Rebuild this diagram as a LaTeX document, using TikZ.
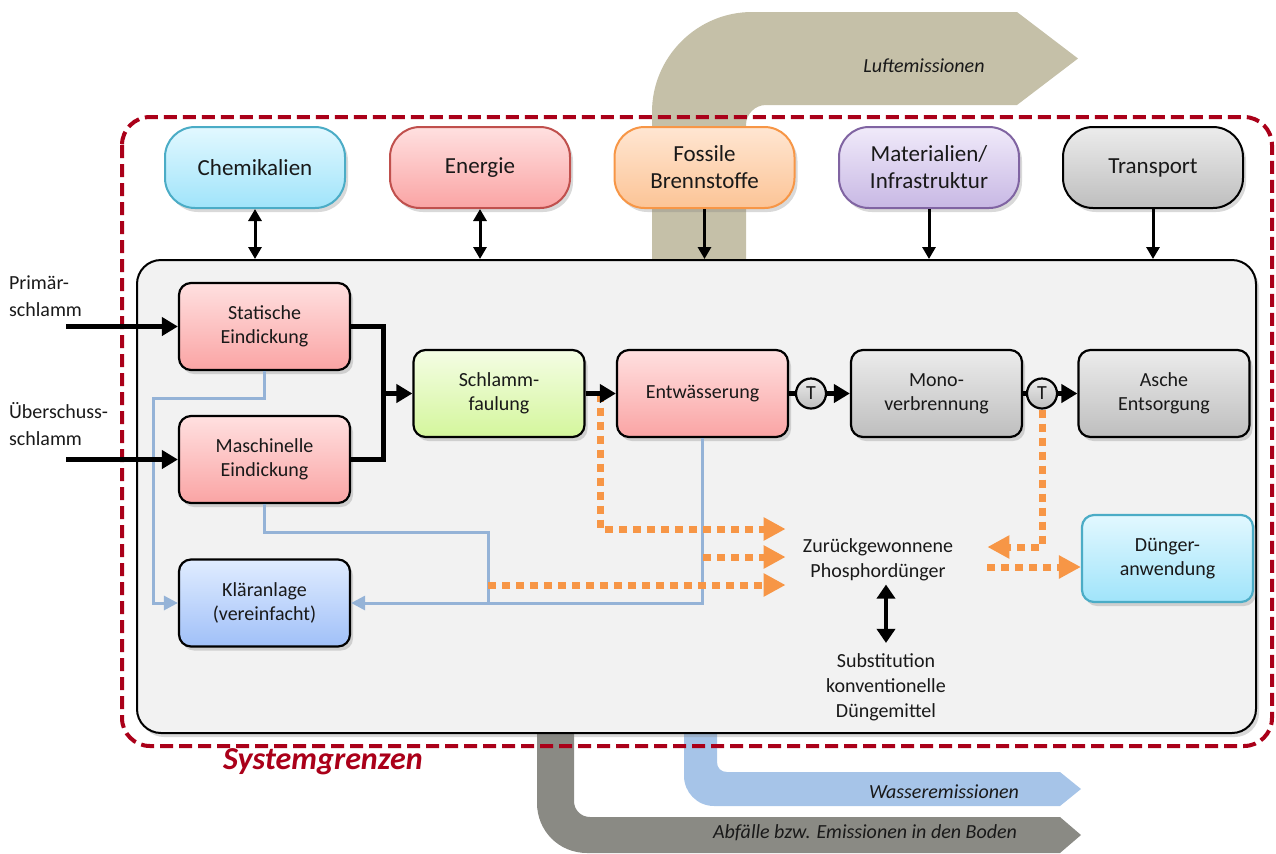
\documentclass[tikz,border=0pt]{standalone}
\usepackage{fontspec}
\setmainfont{Carlito}
\usetikzlibrary{arrows.meta,calc,shadows,positioning}

\definecolor{txt}{RGB}{25,25,25}
\definecolor{sysred}{RGB}{170,0,25}
\definecolor{airtan}{RGB}{197,192,168}
\definecolor{waterblue}{RGB}{166,196,232}
\definecolor{soilgray}{RGB}{138,138,132}
\definecolor{plantgray}{RGB}{242,242,242}
\definecolor{wline}{RGB}{149,179,215}
\definecolor{phos}{RGB}{247,150,70}
\definecolor{cyantop}{RGB}{226,248,255}
\definecolor{cyanbot}{RGB}{160,228,250}
\definecolor{cyanrim}{RGB}{75,172,198}
\definecolor{pinktop}{RGB}{255,224,224}
\definecolor{pinkbot}{RGB}{250,164,164}
\definecolor{pinkrim}{RGB}{192,80,77}
\definecolor{orngtop}{RGB}{255,230,210}
\definecolor{orngbot}{RGB}{252,196,150}
\definecolor{orngrim}{RGB}{247,150,70}
\definecolor{lilatop}{RGB}{240,234,250}
\definecolor{lilabot}{RGB}{200,184,228}
\definecolor{lilarim}{RGB}{128,100,162}
\definecolor{greytop}{RGB}{236,236,236}
\definecolor{greybot}{RGB}{190,190,190}
\definecolor{bluetop}{RGB}{224,236,255}
\definecolor{bluebot}{RGB}{160,192,248}
\definecolor{greentop}{RGB}{244,253,228}
\definecolor{greenbot}{RGB}{212,246,156}

\tikzset{
  boxshadow/.style={drop shadow={opacity=0.3,shadow xshift=1.5pt,shadow yshift=-2pt}},
  inputbox/.style={draw,line width=1pt,rounded corners=15pt,minimum width=90pt,minimum height=40.5pt,
    align=center,text=txt,font=\fontsize{11.5}{13.5}\selectfont,boxshadow},
  procbox/.style={draw=black,line width=1.1pt,rounded corners=6pt,minimum width=85.5pt,minimum height=43.5pt,
    align=center,text=txt,font=\fontsize{10}{12}\selectfont,boxshadow},
  cyanfill/.style={top color=cyantop,bottom color=cyanbot},
  pinkfill/.style={top color=pinktop,bottom color=pinkbot},
  orngfill/.style={top color=orngtop,bottom color=orngbot},
  lilafill/.style={top color=lilatop,bottom color=lilabot},
  greyfill/.style={top color=greytop,bottom color=greybot},
  bluefill/.style={top color=bluetop,bottom color=bluebot},
  greenfill/.style={top color=greentop,bottom color=greenbot},
  transfer/.style={circle,draw=black,line width=1.1pt,minimum size=15pt,inner sep=0pt,greyfill,
    text=txt,font=\fontsize{10}{12}\selectfont},
  mainflow/.style={line width=2.5pt,line join=miter},
  bigtip/.style={-{Triangle[length=8pt,width=9pt]}},
  supply/.style={line width=1.5pt,-{Triangle[length=6pt,width=6.5pt]}},
  bisupply/.style={line width=1.5pt,{Triangle[length=6pt,width=6.5pt]}-{Triangle[length=6pt,width=6.5pt]}},
  waterline/.style={draw=wline,line width=1.5pt,-{Triangle[length=7pt,width=7pt]}},
  phosline/.style={draw=phos,line width=3.5pt,dash pattern=on 4pt off 3pt,-{Triangle[length=11pt,width=11pt]}},
  bandlabel/.style={text=txt,font=\fontsize{10}{12}\itshape\selectfont},
  plaintext/.style={align=center,text=txt,font=\fontsize{10}{12.5}\selectfont},
}

\begin{document}
\begin{tikzpicture}[x=0.5pt,y=-0.5pt]
  \useasboundingbox (0,0) rectangle (1276,853);

  % emission bands behind everything
  \fill[airtan] (652,262) -- (652,112) .. controls (652,57) and (697,12) .. (752,12) -- (1017,12)
    -- (1078,58.5) -- (1017,105) -- (766,105) .. controls (755,105) and (746,114) .. (746,125) -- (746,262) -- cycle;
  \fill[waterblue] (684,720) -- (684,776) .. controls (684,792) and (697,806) .. (714,806) -- (1060,806)
    -- (1081,789) -- (1060,772) -- (727,772) .. controls (721,772) and (717,768) .. (717,762) -- (717,720) -- cycle;
  \fill[soilgray] (537,720) -- (537,803) .. controls (537,831) and (559,853) .. (587,853) -- (1060,853)
    -- (1081,835) -- (1060,817) -- (590,817) .. controls (581,817) and (574,810) .. (574,801) -- (574,720) -- cycle;
  \node[bandlabel] (airlbl) at (924,66) {Luftemissionen};
  \node[bandlabel] (waterlbl) at (944,792) {Wasseremissionen};
  \node[bandlabel] (soillbl) at (865,833) {Abfälle bzw. Emissionen in den Boden};

  % system boundary
  \draw[sysred,line width=2pt,dash pattern=on 6.5pt off 3pt,rounded corners=14pt] (122,117) rectangle (1272,746);
  \node[text=sysred,font=\fontsize{16}{19}\bfseries\itshape\selectfont] (sysname) at (323,762) {Systemgrenzen};

  % inputs
  \node[inputbox,draw=cyanrim,cyanfill] (chem) at (255,167.5) {Chemikalien};
  \node[inputbox,draw=pinkrim,pinkfill] (energ) at (480,167.5) {Energie};
  \node[inputbox,draw=orngrim,orngfill] (foss) at (704.5,167.5) {Fossile\\Brennstoffe};
  \node[inputbox,draw=lilarim,lilafill] (mat) at (929,167.5) {Materialien/\\Infrastruktur};
  \node[inputbox,draw=black,greyfill] (trans) at (1153,167.5) {Transport};

  % plant
  \node[draw=black,line width=1pt,fill=plantgray,rounded corners=12pt,minimum width=559.5pt,
    minimum height=236.5pt,boxshadow] (plant) at (696.5,496.5) {};

  \draw[bisupply] (chem.south) -- (chem.south |- plant.north);
  \draw[bisupply] (energ.south) -- (energ.south |- plant.north);
  \draw[supply] (foss.south) -- (foss.south |- plant.north);
  \draw[supply] (mat.south) -- (mat.south |- plant.north);
  \draw[supply] (trans.south) -- (trans.south |- plant.north);

  \node[procbox,pinkfill] (stat) at (264.5,326.5) {Statische\\Eindickung};
  \node[procbox,pinkfill] (masch) at (264.5,459.5) {Maschinelle\\Eindickung};
  \node[procbox,bluefill] (klaer) at (264.5,603) {Kläranlage\\(vereinfacht)};
  \node[procbox,greenfill] (faul) at (499,393.5) {Schlamm-\\faulung};
  \node[procbox,pinkfill] (entw) at (702.5,393.5) {Entwässerung};
  \node[procbox,greyfill] (mono) at (936.5,393.5) {Mono-\\verbrennung};
  \node[procbox,greyfill] (asche) at (1164,393.5) {Asche\\Entsorgung};
  \node[procbox,cyanfill,draw=cyanrim] (duen) at (1167.5,558.5) {Dünger-\\anwendung};
  \node[transfer] (t1) at (811,393.5) {T};
  \node[transfer] (t2) at (1042,393.5) {T};

  \node[plaintext,minimum width=92pt,inner sep=1.5pt] (recov) at (878,560) {Zurückgewonnene\\Phosphordünger};
  \node[plaintext,inner sep=5pt] (subst) at (886,687) {Substitution\\konventionelle\\Düngemittel};

  \node[plaintext,align=left,anchor=west,font=\fontsize{10}{13.5}\selectfont] (primlbl) at (2,296.5) {Primär-\\schlamm};
  \node[plaintext,align=left,anchor=west,font=\fontsize{10}{13.5}\selectfont] (ueblbl) at (2,424) {Überschuss-\\schlamm};
  \coordinate (primin) at (66,326.5);
  \coordinate (uebin) at (66,459.5);
  \coordinate (merge) at (383,393.5);
  \coordinate (split) at ($(faul.east)!0.5!(entw.west)$);
  \coordinate (wjoin) at (488,603);
  \coordinate (ph2) at (703,557);
  \coordinate (ph3) at (488,585);

  % water paths to the treatment plant
  \draw[waterline] (stat.south) |- (153,398) |- (klaer.west);
  \draw[waterline,-] (masch.south) |- (488,532) -- (wjoin);
  \draw[waterline] (entw.south) |- (klaer.east);

  % recovered phosphorus
  \draw[phosline] (split) |- ([yshift=15.5pt]recov.west);
  \draw[phosline] (ph2) -- ([yshift=1.5pt]recov.west);
  \draw[phosline] (ph3) -- ([yshift=-12.5pt]recov.west);
  \draw[phosline] (t2.south) |- ([xshift=8.5pt,yshift=6.5pt]recov.east);
  \draw[phosline] ([xshift=8.5pt,yshift=-3.5pt]recov.east) -- ([yshift=-4.25pt]duen.west);
  \draw[line width=2pt,{Triangle[length=7pt,width=9pt]}-{Triangle[length=7pt,width=9pt]}]
    (subst.north) -- (subst.north |- recov.south);

  % sludge line
  \draw[mainflow,bigtip] (primin) -- (stat.west);
  \draw[mainflow,bigtip] (uebin) -- (masch.west);
  \draw[mainflow] (stat.east) -| (merge) |- (masch.east);
  \draw[mainflow,bigtip] (merge) -- (faul.west);
  \draw[mainflow,bigtip] (faul.east) -- (entw.west);
  \draw[mainflow] (entw.east) -- (t1.west);
  \draw[mainflow,bigtip] (t1.east) -- (mono.west);
  \draw[mainflow] (mono.east) -- (t2.west);
  \draw[mainflow,bigtip] (t2.east) -- (asche.west);
\end{tikzpicture}
\end{document}
